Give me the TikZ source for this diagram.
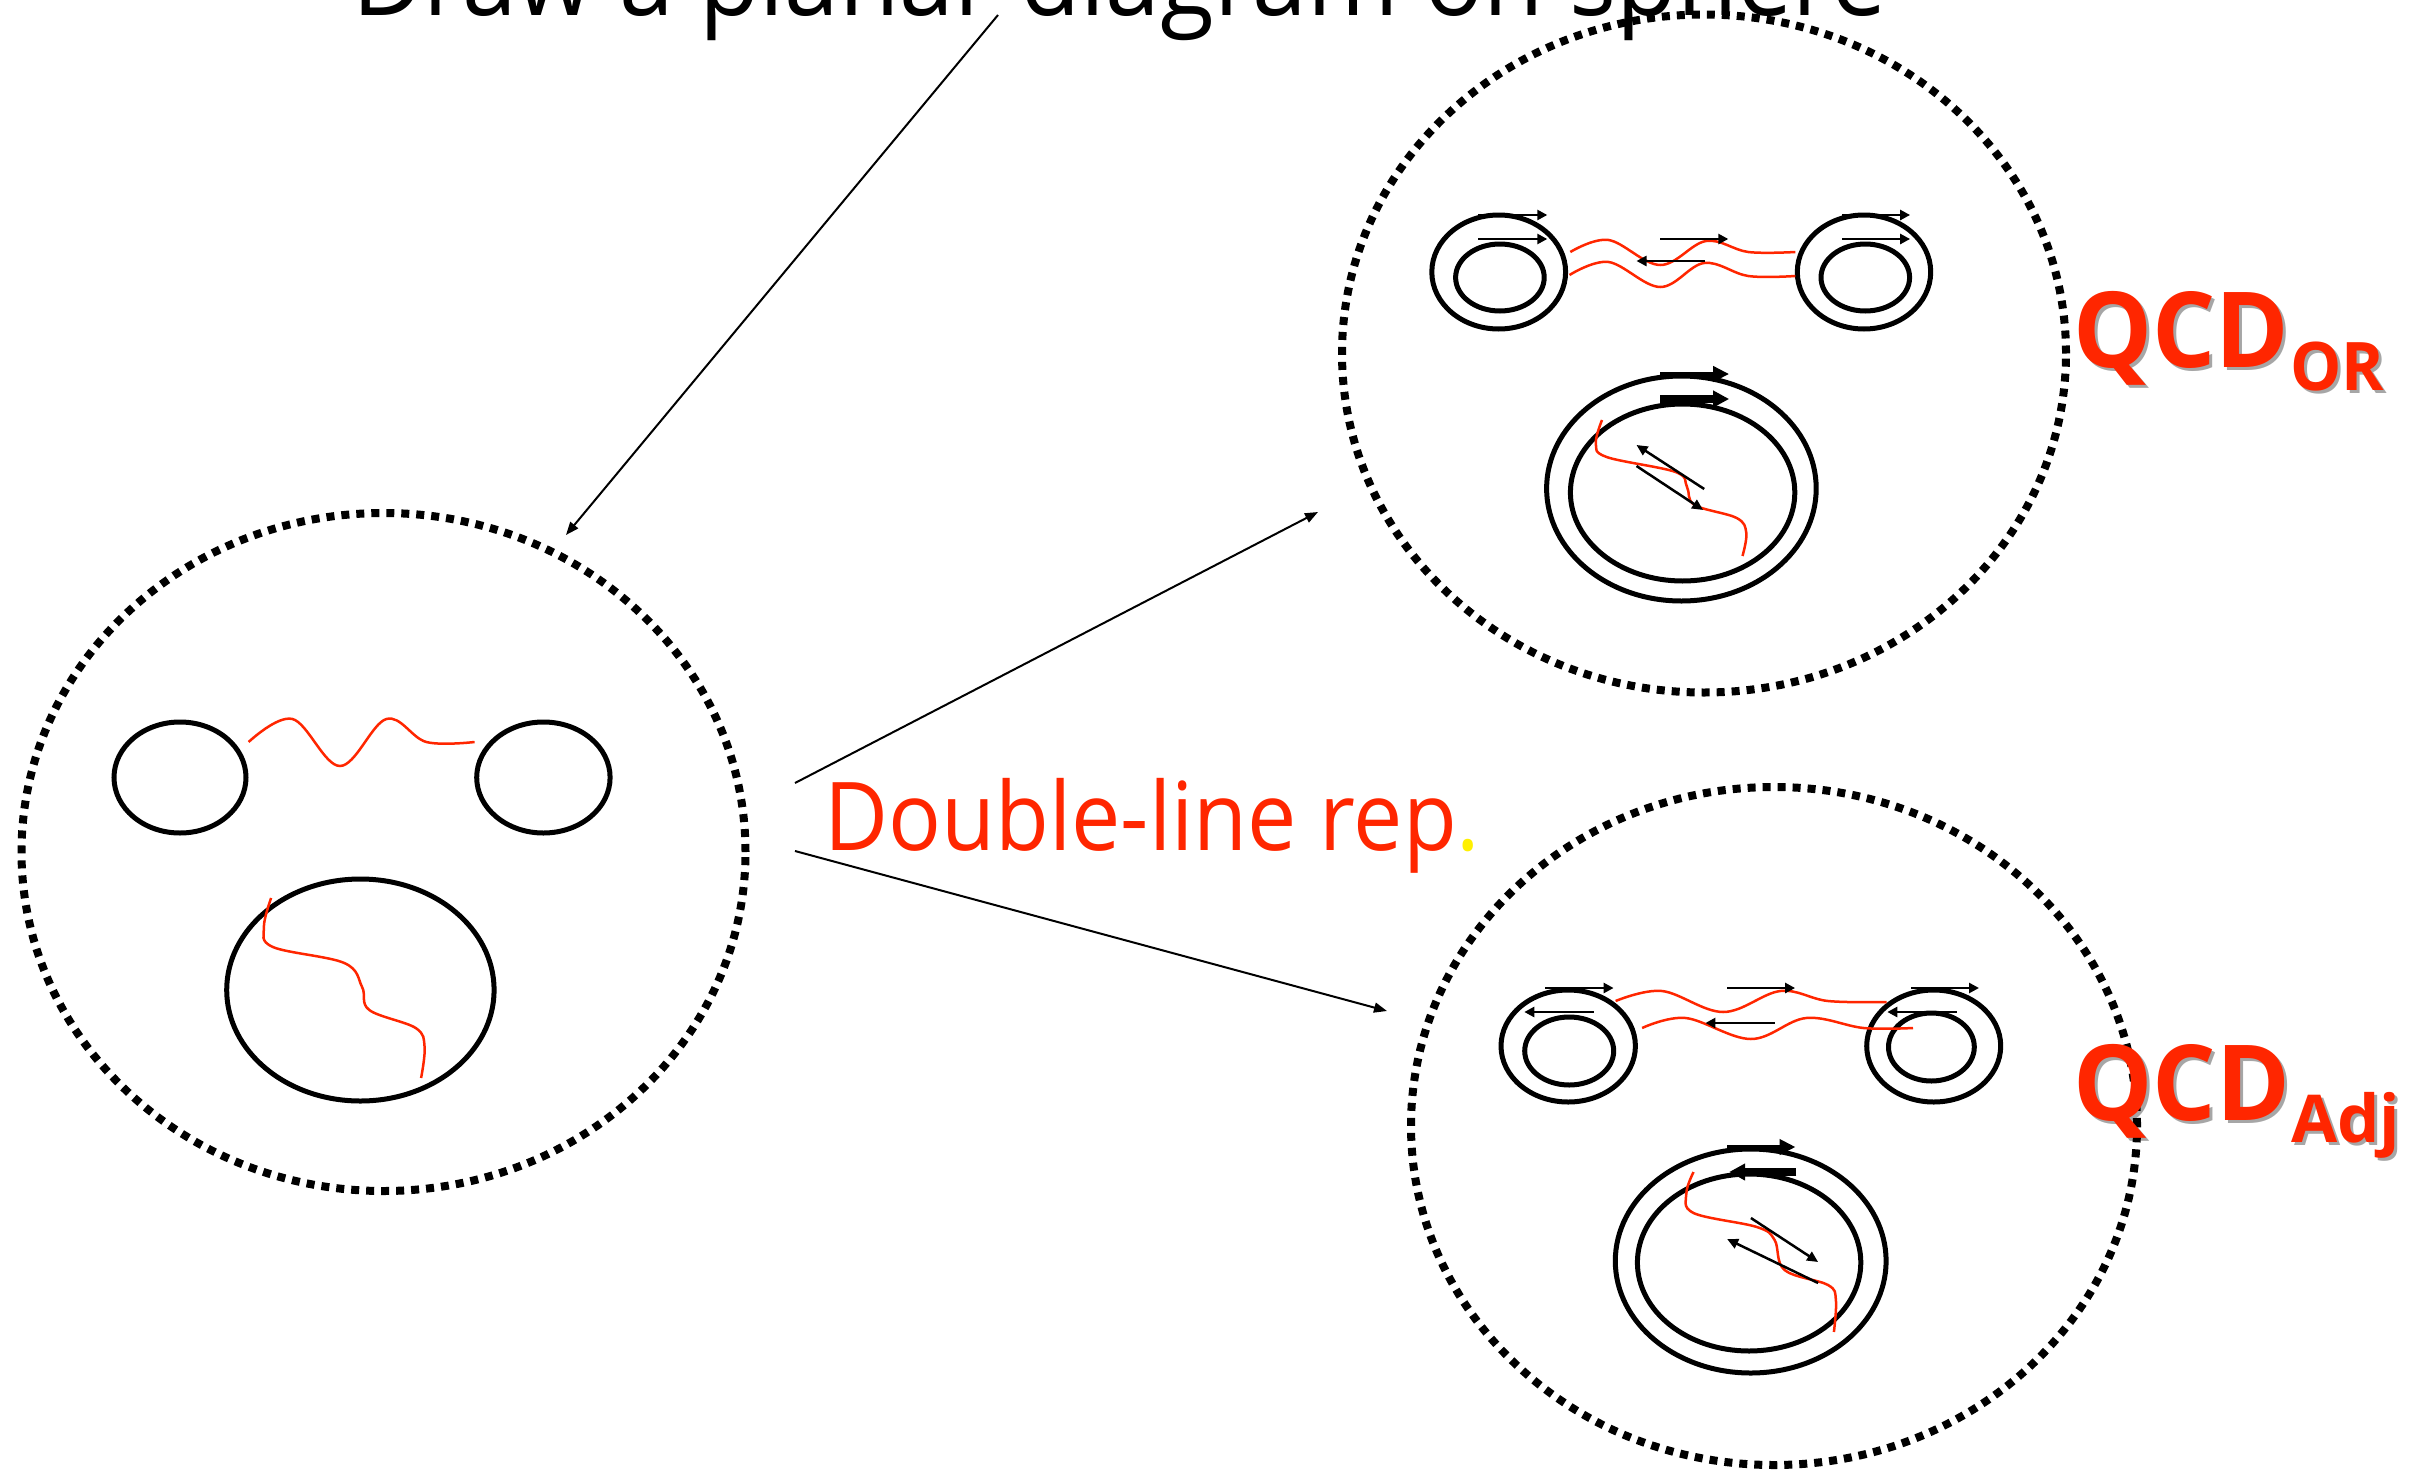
\documentclass[tikz,border=0pt]{standalone}
\usepackage{fontspec}
\setmainfont{Open Sans}
\usetikzlibrary{arrows.meta}
\definecolor{qred}{RGB}{255,38,0}
\definecolor{qyel}{RGB}{255,240,0}
\newcommand\fitw[2]{\resizebox{#1}{\height}{#2}}
\begin{document}
\begin{tikzpicture}[x=1pt,y=-1pt,
  sphere/.style={line width=8pt, dash pattern=on 8pt off 7pt},
  loopline/.style={line width=5pt},
  gluon/.style={qred, line width=2.5pt},
  conn/.style={line width=2pt, -{Triangle[length=13pt,width=10pt]}},
  idx/.style={line width=2.8pt, -{Triangle[length=10pt,width=10pt]}},
  diag/.style={line width=2.5pt, -{Triangle[length=11pt,width=10pt]}},
  bigidx/.style={line width=5pt, -{Triangle[length=16pt,width=15pt]}},
  fatidx/.style={line width=7.5pt, -{Triangle[length=16pt,width=16pt]}},
  lbl/.style={anchor=base west, inner sep=0pt},
  shadow/.style={lbl, text=black, opacity=0.35}
]
\useasboundingbox (0,0) rectangle (2425,1472);

% title (cut off at the top)
\node[lbl] (T) at (352,16) {\fontsize{105}{110}\selectfont\fitw{1534pt}{Draw a planar diagram on sphere}};

% spheres
\draw[sphere] (383.5,852) ellipse [x radius=362pt, y radius=339pt];
\draw[sphere] (1704,353.5) ellipse [x radius=362pt, y radius=339pt];
\draw[sphere] (1774,1126) ellipse [x radius=363pt, y radius=339pt];

% connectors
\coordinate (t1) at (998,15);
\coordinate (s1) at (566,535);
\coordinate (o1) at (795,783);
\coordinate (s2) at (1318,512);
\coordinate (o2) at (795,851);
\coordinate (s3) at (1387,1011);
\draw[conn] (t1) -- (s1);
\draw[conn] (o1) -- (s2);
\draw[conn] (o2) -- (s3);

% ---------- left diagram ----------
\draw[loopline] (180,777.5) ellipse [x radius=66pt, y radius=55.5pt];
\draw[loopline] (543.4,777.5) ellipse [x radius=66.7pt, y radius=55.5pt];
\draw[loopline] (360.4,990) ellipse [x radius=133.7pt, y radius=111pt];
\draw[gluon] plot[smooth, tension=0.6] coordinates {(248.6,742) (292.5,719) (340,766) (386.4,719) (426.4,742) (474.6,742)};
\draw[gluon] plot[smooth, tension=0.6] coordinates {(271.1,898) (263.9,927) (272.9,947) (344.3,963) (362.1,987) (369.3,1010) (415.7,1028) (424.6,1047) (421.1,1078)};

% ---------- top right diagram (QCD_OR) ----------
\draw[loopline] (1498.7,272) ellipse [x radius=66.9pt, y radius=57pt];
\draw[loopline] (1499.9,277.5) ellipse [x radius=44.3pt, y radius=33.5pt];
\draw[loopline] (1864,272) ellipse [x radius=66.7pt, y radius=57pt];
\draw[loopline] (1865.3,277.5) ellipse [x radius=44.3pt, y radius=33.5pt];
\draw[loopline] (1681.4,488.5) ellipse [x radius=134.8pt, y radius=112.5pt];
\draw[loopline] (1682.6,492.5) ellipse [x radius=112.2pt, y radius=88.5pt];
\draw[gluon] plot[smooth, tension=0.6] coordinates {(1570.3,252) (1608.5,240) (1660.2,265) (1706.1,241) (1748.2,252) (1795.3,252)};
\draw[gluon] plot[smooth, tension=0.6] coordinates {(1569.5,275) (1608.5,262) (1660.2,287) (1704.2,263) (1748.2,276) (1795.3,276)};
\draw[gluon] plot[smooth, tension=0.6] coordinates {(1602,420) (1595.9,443) (1606.6,457) (1675.5,472) (1687,487) (1694.6,505) (1736.7,518) (1746.3,533) (1742.5,556)};
\coordinate (a1) at (1478.4,215); \coordinate (b1) at (1547.3,215);
\coordinate (a2) at (1478.4,239); \coordinate (b2) at (1547.3,239);
\coordinate (a3) at (1842,215); \coordinate (b3) at (1910.1,215);
\coordinate (a4) at (1842,239); \coordinate (b4) at (1910.1,239);
\coordinate (a5) at (1660.2,239); \coordinate (b5) at (1728.3,239);
\coordinate (a6) at (1705,261); \coordinate (b6) at (1636.5,261);
\draw[idx] (a1) -- (b1);
\draw[idx] (a2) -- (b2);
\draw[idx] (a3) -- (b3);
\draw[idx] (a4) -- (b4);
\draw[idx] (a5) -- (b5);
\draw[idx] (a6) -- (b6);
\coordinate (a7) at (1660.2,374); \coordinate (b7) at (1729.1,374);
\coordinate (a8) at (1660.2,399); \coordinate (b8) at (1729.1,399);
\draw[bigidx] (a7) -- (b7);
\draw[fatidx] (a8) -- (b8);
\coordinate (a9) at (1704.2,489); \coordinate (b9) at (1636.5,445);
\coordinate (a10) at (1636.5,466); \coordinate (b10) at (1703.1,510);
\draw[diag] (a9) -- (b9);
\draw[diag] (a10) -- (b10);

% ---------- bottom right diagram (QCD_Adj) ----------
\draw[loopline] (1568.2,1046) ellipse [x radius=67.2pt, y radius=56pt];
\draw[loopline] (1569.2,1051) ellipse [x radius=44.5pt, y radius=34pt];
\draw[loopline] (1933.7,1046) ellipse [x radius=67pt, y radius=56pt];
\draw[loopline] (1931.4,1047) ellipse [x radius=42.9pt, y radius=34pt];
\draw[loopline] (1750.7,1261) ellipse [x radius=135.4pt, y radius=112pt];
\draw[loopline] (1749.1,1262.5) ellipse [x radius=111.7pt, y radius=88.5pt];
\draw[gluon] plot[smooth, tension=0.6] coordinates {(1615.6,1001) (1661.9,991) (1723.2,1012) (1780.5,991) (1828,1001) (1886.5,1002)};
\draw[gluon] plot[smooth, tension=0.6] coordinates {(1642.1,1028) (1685.6,1018) (1750.9,1039) (1806.2,1018) (1863.6,1028) (1913,1028)};
\draw[gluon] plot[smooth, tension=0.6] coordinates {(1693.5,1172) (1686.4,1193) (1693.5,1213) (1756.8,1227) (1774.6,1240) (1784.5,1270) (1828,1285) (1835.9,1300) (1833.9,1332)};
\coordinate (c1) at (1545.2,988); \coordinate (d1) at (1613.6,988);
\coordinate (c2) at (1593.5,1012); \coordinate (d2) at (1524.3,1012);
\coordinate (c3) at (1911,988); \coordinate (d3) at (1979,988);
\coordinate (c4) at (1956.5,1012); \coordinate (d4) at (1887.3,1012);
\coordinate (c5) at (1727.1,988); \coordinate (d5) at (1795.1,988);
\coordinate (c6) at (1774.6,1023); \coordinate (d6) at (1705.4,1023);
\draw[idx] (c1) -- (d1);
\draw[idx] (c2) -- (d2);
\draw[idx] (c3) -- (d3);
\draw[idx] (c4) -- (d4);
\draw[idx] (c5) -- (d5);
\draw[idx] (c6) -- (d6);
\coordinate (c7) at (1727.1,1147); \coordinate (d7) at (1795.5,1147);
\coordinate (c8) at (1796.3,1172); \coordinate (d8) at (1729.1,1172);
\draw[bigidx] (c7) -- (d7);
\draw[fatidx] (c8) -- (d8);
\coordinate (c9) at (1750.9,1218); \coordinate (d9) at (1818.1,1262);
\coordinate (c10) at (1818.1,1283); \coordinate (d10) at (1727.1,1239);
\draw[diag] (c9) -- (d9);
\draw[diag] (c10) -- (d10);

% ---------- labels ----------
\node[lbl, text=qred] (DL) at (824,850) {\fontsize{95}{100}\selectfont\fitw{656pt}{Double-line rep\textcolor{qyel}{.}}};

\node[shadow] (QOs) at (2076,370) {\fontsize{105}{110}\selectfont\bfseries\fitw{216pt}{QCD}};
\node[shadow] (QOss) at (2293,393) {\fontsize{67}{70}\selectfont\bfseries\fitw{94pt}{OR}};
\node[lbl, text=qred] (QO) at (2073,367) {\fontsize{105}{110}\selectfont\bfseries\fitw{216pt}{QCD}};
\node[lbl, text=qred] (QOsub) at (2290,390) {\fontsize{67}{70}\selectfont\bfseries\fitw{94pt}{OR}};

\node[shadow] (QAs) at (2076,1123) {\fontsize{105}{110}\selectfont\bfseries\fitw{217pt}{QCD}};
\node[shadow] (QAss) at (2294,1145) {\fontsize{66}{70}\selectfont\bfseries\fitw{109pt}{Adj}};
\node[lbl, text=qred] (QA) at (2073,1120) {\fontsize{105}{110}\selectfont\bfseries\fitw{217pt}{QCD}};
\node[lbl, text=qred] (QAsub) at (2291,1142) {\fontsize{66}{70}\selectfont\bfseries\fitw{109pt}{Adj}};
\end{tikzpicture}
\end{document}
